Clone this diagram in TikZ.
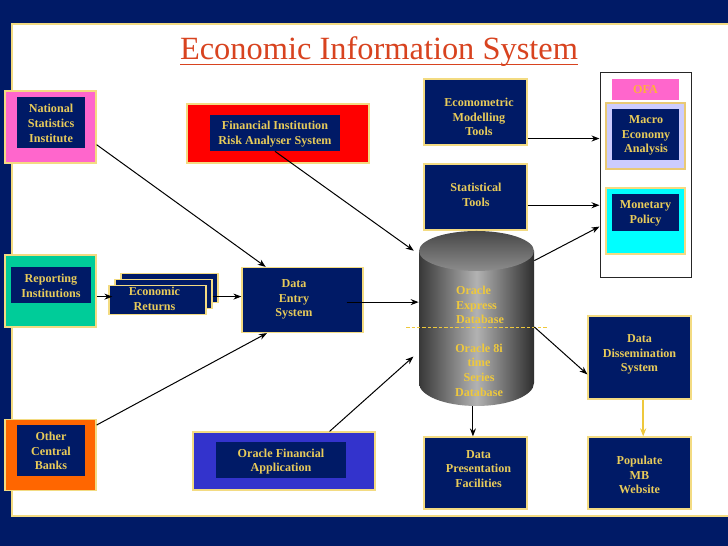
\documentclass[tikz,border=0pt]{standalone}
\usepackage{fontspec}
\setmainfont{Liberation Serif}
\usetikzlibrary{arrows.meta}
\definecolor{navy}{HTML}{001A66}
\definecolor{gold}{HTML}{E8CB5A}
\definecolor{dbgold}{HTML}{EEC83C}
\definecolor{goldline}{HTML}{F3DB82}
\definecolor{titlered}{HTML}{D8431F}
\definecolor{pinkfill}{HTML}{FF66CC}
\definecolor{tealfill}{HTML}{00CC99}
\definecolor{orangefill}{HTML}{FF6600}
\definecolor{bluefill}{HTML}{3333CC}
\definecolor{lilacfill}{HTML}{CCCCFF}
\definecolor{cyanfill}{HTML}{00FFFF}
\definecolor{ofatext}{HTML}{FFB03A}
\tikzset{
  boxsize/.style 2 args={minimum width=#1*0.02cm,minimum height=#2*0.02cm},
  navybox/.style={draw=goldline,line width=0.024cm,fill=navy,inner sep=0pt},
  innerbox/.style={fill=navy,inner sep=0pt},
  lbl/.style={text=gold,font=\fontsize{6.9}{8.4}\selectfont\bfseries,align=center,inner sep=0pt},
  link/.style={draw=black,line width=0.02cm,-{Stealth[length=0.16cm,width=0.12cm]}},
}
\begin{document}
\begin{tikzpicture}[x=0.02cm,y=-0.02cm]
        \useasboundingbox (0,0) rectangle (728,546);
        % Slide background and white panel
        \fill [navy] (0,0) rectangle (728,546);%
        \fill [white] (12,24) rectangle (728,516);%
        \draw [goldline,line width=0.03cm] (728,24) -- (12,24) -- (12,516) -- (728,516);%

        % Title
        \node (title) [text=titlered,inner sep=0pt,anchor=base] at (379,60) {\fontsize{18.45}{20}\selectfont Economic Information System};%
        \coordinate (rulel) at (180,64.5);%
        \coordinate (ruler) at (578,64.5);%
        \draw [titlered,line width=0.036cm] (rulel) -- (ruler);%

        % National statistics box
        \node (national) [navybox,fill=pinkfill,boxsize={91}{72}] at (50.5,127) {};%
        \node (nationalin) [innerbox,boxsize={68}{51}] at (51,122.5) {};%
        \node (nationaltxt) [lbl] at (51,123.5) {National\\Statistics\\Institute};%

        % Risk analyser box
        \node (risk) [navybox,fill=red,boxsize={182}{59}] at (278,133.5) {};%
        \node (riskin) [innerbox,boxsize={130}{36}] at (275,133) {};%
        \node (risktxt) [lbl] at (275,134) {Financial Institution\\Risk Analyser System};%

        % Reporting box
        \node (reporting) [navybox,fill=tealfill,boxsize={91}{72}] at (50.5,291) {};%
        \node (reportingin) [innerbox,boxsize={80}{36}] at (51,285) {};%
        \node (reportingtxt) [lbl] at (51,286) {Reporting\\Institutions};%

        % Stack of returns
        \node (retback) [navybox,boxsize={97}{29}] at (169.5,288) {};%
        \node (retmid) [navybox,boxsize={97}{29}] at (163.5,294) {};%
        \node (retfront) [navybox,boxsize={97}{29}] at (157.5,300) {};%
        \node (rettxt) [lbl] at (154.5,298.5) {Economic\\Returns};%

        % Other banks box
        \node (banks) [navybox,fill=orangefill,boxsize={91}{71}] at (50.5,455) {};%
        \node (banksin) [innerbox,boxsize={68}{51}] at (51,450.5) {};%
        \node (bankstxt) [lbl] at (51,451) {Other\\Central\\Banks};%

        % Oracle application box
        \node (application) [navybox,fill=bluefill,boxsize={182}{58}] at (284,461) {};%
        \node (applicationin) [innerbox,boxsize={130}{36}] at (281,460) {};%
        \node (applicationtxt) [lbl] at (281,461.5) {Oracle Financial\\Application};%

        % Data entry box
        \node (entry) [navybox,boxsize={121}{65}] at (302.5,300) {};%
        \node (entrytxt) [lbl] at (294,299.5) {Data\\Entry\\System};%

        % Modelling and statistical tools
        \node (modelling) [navybox,boxsize={103}{66}] at (475.5,112) {};%
        \node (modellingtxt) [lbl] at (479,117) {Ecomometric\\Modelling\\Tools};%
        \node (tools) [navybox,boxsize={103}{66}] at (475.5,197) {};%
        \node (toolstxt) [lbl] at (476,194.5) {Statistical\\Tools};%

        % OFA frame with its boxes
        \node (ofa) [draw=black!85,line width=0.02cm,fill=white,boxsize={91}{205}] at (645.5,175.5) {};%
        \node (ofahead) [fill=pinkfill,text=ofatext,font=\fontsize{6.9}{8.4}\selectfont\bfseries,inner sep=0pt,boxsize={67}{21}] at (645.5,89.5) {OFA};%
        \node (macro) [navybox,draw=goldline!80!brown,fill=lilacfill,boxsize={79}{66}] at (645.5,136) {};%
        \node (macroin) [innerbox,boxsize={67}{51}] at (645.5,134.5) {};%
        \node (macrotxt) [lbl] at (646,135.5) {Macro\\Economy\\Analysis};%
        \node (policy) [navybox,fill=cyanfill,boxsize={79}{66}] at (645.5,221) {};%
        \node (policyin) [innerbox,boxsize={67}{37}] at (645.5,212.5) {};%
        \node (policytxt) [lbl] at (645.5,213.5) {Monetary\\Policy};%

        % Database drum
        \shade [left color=black!78,right color=black!82,middle color=black!30] (419,251) -- (419,383) .. controls (419,395.7) and (444.7,406) .. (476.5,406) .. controls (508.3,406) and (534,395.7) .. (534,383) -- (534,251) -- cycle;%
        \shade [top color=black!72,bottom color=black!45] (476.5,251) ellipse [x radius=57.5,y radius=20];%
        \node (db) [inner sep=0pt,boxsize={115}{175}] at (476.5,318.5) {};%
        \node (dbup) [lbl,align=left,text=dbgold] at (480,305) {Oracle\\Express\\Database};%
        \node (dblow) [lbl,text=dbgold] at (479,370) {Oracle 8i\\time\\Series\\Database};%
        \coordinate (cutl) at (406,327);%
        \coordinate (cutr) at (547,327);%
        \draw [dbgold,dash pattern=on 0.07cm off 0.04cm,line width=0.016cm] (cutl) -- (cutr);%

        % Output boxes
        \node (dissem) [navybox,boxsize={103}{83}] at (639.5,357.5) {};%
        \node (dissemtxt) [lbl] at (639.5,354.5) {Data\\Dissemination\\System};%
        \node (present) [navybox,boxsize={103}{72}] at (475.5,473) {};%
        \node (presenttxt) [lbl] at (478.5,469) {Data\\Presentation\\Facilities};%
        \node (website) [navybox,boxsize={103}{72}] at (639.5,473) {};%
        \node (websitetxt) [lbl] at (639.5,475) {Populate\\MB\\Website};%

        % Connectors
        \draw [link] (national.-21.6) -- (entry.138.8);%
        \draw [link,shorten >=0.12cm] (riskin.south) -- (db.132.9);%
        \draw [link,shorten >=-0.08cm] (reporting.-7.5) -- (retfront.west |- reporting.-7.5);%
        \draw [link] (retmid.-3.5) -- (entry.west |- retmid.-3.5);%
        \draw [link] (banks.33.7) -- (entry.-137.5);%
        \draw [link,shorten >=0.14cm] (application.33.4) -- (db.210.1);%
        \draw [link,shorten <=-0.34cm] (entry.-2.8) -- (db.west |- entry.-2.8);%
        \draw [link] (modelling.-27.7) -- (ofa.west |- modelling.-27.7);%
        \draw [link] (tools.-9.6) -- (ofa.west |- tools.-9.6);%
        \draw [link] (db.45) -- (ofa.-132.6);%
        \draw [link] (db.east |- cutr) -- (dissem.198.8);%
        \draw [link] (db.south -| present.94) -- (present.94);%
        \draw [link,draw=dbgold,line width=0.03cm] (dissem.-85.2) -- (dissem.-85.2 |- website.north);%
\end{tikzpicture}
\end{document}
